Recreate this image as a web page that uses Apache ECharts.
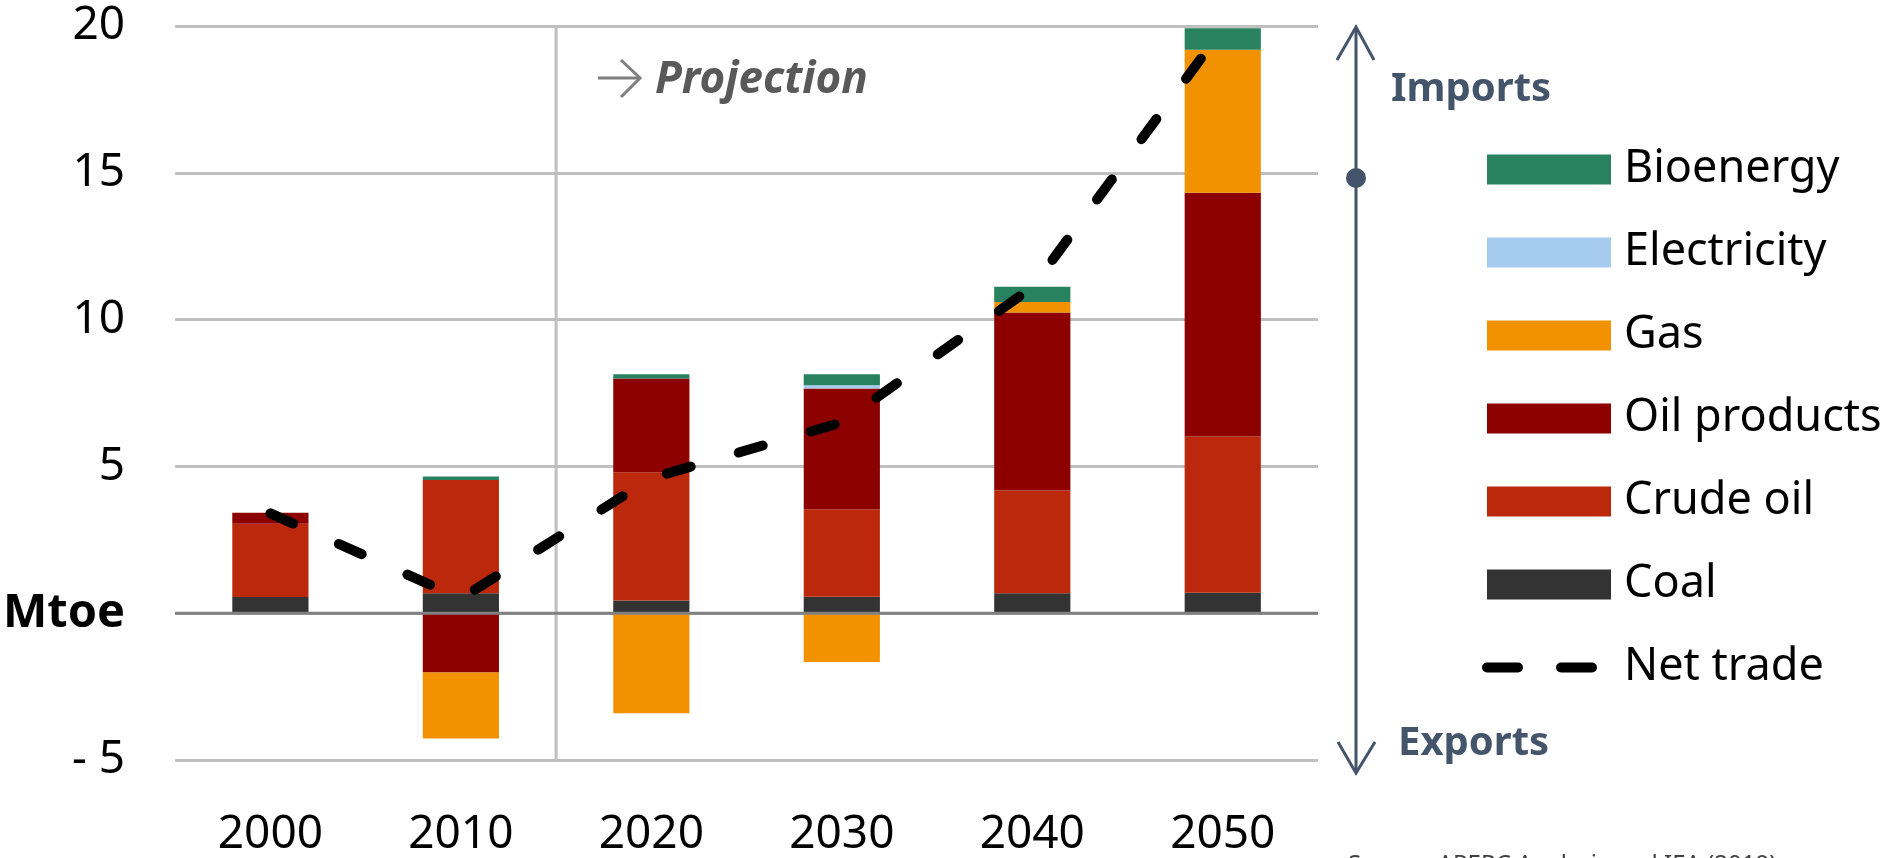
<!DOCTYPE html>
<html>
<head>
<meta charset="utf-8">
<title>Net trade</title>
<script src="https://cdn.jsdelivr.net/npm/echarts@6/dist/echarts.min.js"></script>
<style>
  html, body {margin: 0; padding: 0; background: #fff;}
  #chart {width: 1901px; height: 858px;}
</style>
</head>
<body>
<div id="chart"></div>
<script>
let years = ['2000', '2010', '2020', '2030', '2040', '2050'];
let coal = [0.55, 0.68, 0.43, 0.56, 0.68, 0.7];
let crudeOil = [2.5, 3.86, 4.37, 2.98, 3.5, 5.32];
let oilProducts = [0.37, -2.02, 3.19, 4.11, 6.06, 8.3];
let gas = [0, -2.25, -3.41, -1.66, 0.36, 4.87];
let electricity = [0, 0, 0, 0.11, 0, 0];
let bioenergy = [0, 0.12, 0.15, 0.38, 0.52, 0.73];
let netTrade = [3.4, 0.5, 4.6, 6.5, 11.1, 19.9];
let yTicks = [-5, 0, 5, 10, 15, 20];
// hidden value axis runs 0..6 across the six categories
let projectionAt = 2;

let font = 'Noto Sans';
let slate = '#44546a';

let chart = echarts.init(document.getElementById('chart'));

let barSeries = [
  {name: 'Coal', data: coal, color: '#333333'},
  {name: 'Crude oil', data: crudeOil, color: '#bb280c'},
  {name: 'Oil products', data: oilProducts, color: '#8c0000'},
  {name: 'Gas', data: gas, color: '#f39200'},
  {name: 'Electricity', data: electricity, color: '#a5ccee'},
  {name: 'Bioenergy', data: bioenergy, color: '#288260'}
].map((s) => {
  return {
    name: s.name,
    type: 'bar',
    stack: 'trade',
    barCategoryGap: '60%',
    data: s.data,
    itemStyle: {color: s.color},
    z: 2
  };
});

chart.setOption({
  backgroundColor: '#fff',
  animation: false,
  textStyle: {fontFamily: font},
  grid: {left: 174, right: 583, top: 26, bottom: 97, containLabel: false},
  legend: {
    orient: 'vertical',
    left: 1477,
    top: 142,
    itemWidth: 124,
    itemHeight: 30,
    itemGap: 38,
    selectedMode: false,
    textStyle: {fontSize: 45, fontFamily: font, color: '#000', padding: [0, 0, 0, 8]},
    data: [
      {name: 'Bioenergy', icon: 'rect'},
      {name: 'Electricity', icon: 'rect'},
      {name: 'Gas', icon: 'rect'},
      {name: 'Oil products', icon: 'rect'},
      {name: 'Crude oil', icon: 'rect'},
      {name: 'Coal', icon: 'rect'},
      {
        name: 'Net trade',
        itemStyle: {opacity: 0},
        lineStyle: {width: 10, type: [31, 43], cap: 'round', color: '#000', opacity: 1}
      }
    ]
  },
  xAxis: [
    {
      type: 'category',
      data: years,
      axisLine: {show: false, onZero: false},
      axisTick: {show: false},
      axisLabel: {fontSize: 46, color: '#000', margin: 52, fontFamily: font}
    },
    {type: 'value', min: 0, max: years.length, show: false}
  ],
  yAxis: {
    type: 'value',
    min: yTicks[0],
    max: yTicks[yTicks.length - 1],
    interval: 5,
    axisLine: {show: false},
    axisTick: {show: false},
    splitLine: {lineStyle: {color: '#bfbfbf', width: 3}},
    axisLabel: {
      fontSize: 46,
      color: '#000',
      margin: 50,
      fontFamily: font,
      formatter: (v) => {
        if (v === 0) return '{b|Mtoe}';
        if (v < 0) return '- ' + (-v);
        return String(v);
      },
      rich: {b: {fontSize: 47, fontWeight: 'bold', color: '#000', fontFamily: font}}
    }
  },
  series: barSeries.concat([
    {
      name: 'projection',
      type: 'line',
      xAxisIndex: 1,
      data: [[projectionAt, yTicks[0]], [projectionAt, yTicks[yTicks.length - 1]]],
      symbol: 'none',
      silent: true,
      lineStyle: {color: '#bfbfbf', width: 3},
      z: 1
    },
    {
      name: 'zero',
      type: 'line',
      xAxisIndex: 1,
      data: [[0, 0], [years.length, 0]],
      symbol: 'none',
      silent: true,
      lineStyle: {color: '#808080', width: 3},
      z: 5
    },
    {
      name: 'Net trade',
      type: 'line',
      data: netTrade,
      symbol: 'none',
      color: '#000',
      lineStyle: {color: '#000', width: 10, type: [25, 50], cap: 'round'},
      z: 10
    }
  ]),
  graphic: [
    // imports / exports arrow
    {type: 'line', shape: {x1: 1356, y1: 28, x2: 1356, y2: 772}, style: {stroke: slate, lineWidth: 3}},
    {type: 'polyline', shape: {points: [[1337, 60], [1356, 27], [1374, 60]]}, style: {stroke: slate, lineWidth: 3, fill: null}},
    {type: 'polyline', shape: {points: [[1338, 742], [1356, 773], [1375, 742]]}, style: {stroke: slate, lineWidth: 3, fill: null}},
    {type: 'circle', shape: {cx: 1356, cy: 178, r: 10}, style: {fill: slate}},
    {type: 'text', left: 1391, top: 70, style: {text: 'Imports', font: 'bold 40px "Noto Sans"', fill: slate}},
    {type: 'text', left: 1398, top: 724, style: {text: 'Exports', font: 'bold 40px "Noto Sans"', fill: slate}},
    // projection marker
    {type: 'polyline', shape: {points: [[598, 78], [640, 78]]}, style: {stroke: '#7f7f7f', lineWidth: 3, fill: null}},
    {type: 'polyline', shape: {points: [[621, 60], [640, 78], [621, 97]]}, style: {stroke: '#7f7f7f', lineWidth: 3, fill: null}},
    {type: 'text', left: 655, top: 58, style: {text: 'Projection', font: 'italic bold 44px "Noto Sans"', fill: '#595959'}},
    {type: 'text', left: 1348, top: 853, style: {text: 'Source: APERC Analysis and IEA (2019).', font: '24px "Noto Sans"', fill: '#404040'}}
  ]
});
</script>
</body>
</html>
